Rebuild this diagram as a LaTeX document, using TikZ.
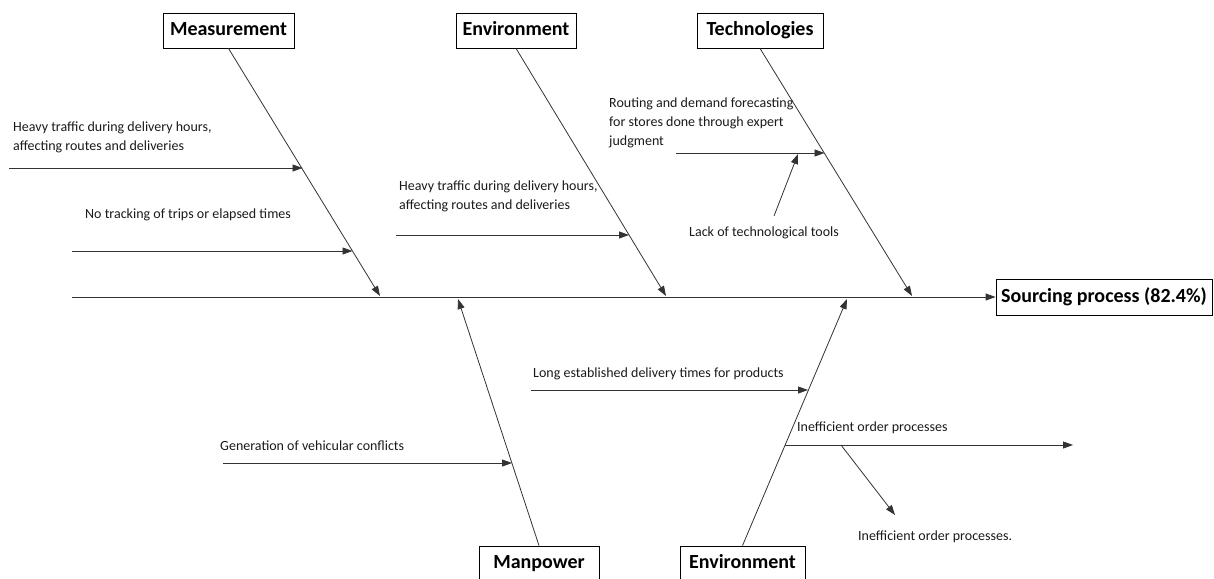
\documentclass[tikz,border=0pt]{standalone}
\usepackage{fontspec}
\setmainfont{Carlito}
\usetikzlibrary{arrows.meta, positioning, calc}
\definecolor{BoneGray}{HTML}{333333}
\definecolor{TextGray}{HTML}{1A1A1A}

\begin{document}
\begin{tikzpicture}[x=1pt, y=-1pt, >={Triangle[length=10pt, width=7pt]},
    catbox/.style={draw, line width=0.8pt, font=\fontsize{20}{24}\selectfont\bfseries, minimum height=35pt, text height=14pt, text depth=4pt, inner xsep=4pt},
    causetext/.style={text=TextGray, font=\fontsize{14}{19}\selectfont, align=left, anchor=west, inner sep=0pt},
    bone/.style={draw=BoneGray, line width=0.8pt, ->}]
    \clip (0,0) rectangle (1214,578);

    % Effect and spine
    \node[catbox, minimum width=216pt, minimum height=36pt] (effect) at (1104,297) {Sourcing process (82.4\%)};
    \coordinate (spinestart) at (72,297);
    \draw[bone] (spinestart) -- (effect.west);

    % Top categories
    \node[catbox, minimum width=131pt] (meas) at (228.5,30.5) {Measurement};
    \node[catbox, minimum width=120pt] (envtop) at (516,30.5) {Environment};
    \node[catbox, minimum width=126pt] (tech) at (760,30.5) {Technologies};
    \coordinate (meastip) at (380,296);
    \coordinate (envtoptip) at (666,296);
    \coordinate (techtip) at (912,296);
    \draw[bone] (meas.south) -- (meastip);
    \draw[bone] (envtop.south) -- (envtoptip);
    \draw[bone] (tech.south) -- (techtip);

    % Bottom categories
    \node[catbox, minimum width=120pt] (man) at (539,563.5) {Manpower};
    \node[catbox, minimum width=125pt] (envbot) at (742.5,563.5) {Environment};
    \coordinate (mantip) at (458,299);
    \coordinate (envbottip) at (847,299);
    \draw[bone] (man.north) -- (mantip);
    \draw[bone] (envbot.north) -- (envbottip);

    % Measurement causes
    \node[causetext] (traffica) at (13,137.5) {Heavy traffic during delivery hours,\\affecting routes and deliveries};
    \node[causetext] (tracking) at (85,215) {No tracking of trips or elapsed times};
    \coordinate (trafficastart) at (9,168);
    \coordinate (trafficaend) at (302.5,168);
    \coordinate (trackingstart) at (72,251);
    \coordinate (trackingend) at (352.5,251);
    \draw[bone] (trafficastart) -- (trafficaend);
    \draw[bone] (trackingstart) -- (trackingend);

    % Environment causes
    \node[causetext] (trafficb) at (399,196.5) {Heavy traffic during delivery hours,\\affecting routes and deliveries};
    \coordinate (trafficbstart) at (396,235);
    \coordinate (trafficbend) at (629,235);
    \draw[bone] (trafficbstart) -- (trafficbend);

    % Technologies causes
    \node[causetext] (routing) at (609,122.5) {Routing and demand forecasting\\for stores done through expert\\judgment};
    \node[causetext] (tools) at (689,233) {Lack of technological tools};
    \coordinate (routingstart) at (676,153);
    \coordinate (routingend) at (824.5,153);
    \coordinate (toolsstart) at (774,216);
    \coordinate (toolsend) at (798,154);
    \draw[bone] (routingstart) -- (routingend);
    \draw[bone] (toolsstart) -- (toolsend);

    % Manpower causes
    \node[causetext] (conflicts) at (220,446) {Generation of vehicular conflicts};
    \coordinate (conflictsstart) at (223,463);
    \coordinate (conflictsend) at (512,463);
    \draw[bone] (conflictsstart) -- (conflictsend);

    % Environment (bottom) causes
    \node[causetext] (delivery) at (533,374) {Long established delivery times for products};
    \node[causetext] (ordera) at (797,428) {Inefficient order processes};
    \node[causetext] (orderb) at (858,537) {Inefficient order processes.};
    \coordinate (deliverystart) at (531,390);
    \coordinate (deliveryend) at (808,390);
    \coordinate (orderastart) at (785,445);
    \coordinate (orderaend) at (1073,445);
    \coordinate (orderbstart) at (841,445);
    \coordinate (orderbend) at (895,515);
    \draw[bone] (deliverystart) -- (deliveryend);
    \draw[bone] (orderastart) -- (orderaend);
    \draw[bone] (orderbstart) -- (orderbend);
\end{tikzpicture}
\end{document}
